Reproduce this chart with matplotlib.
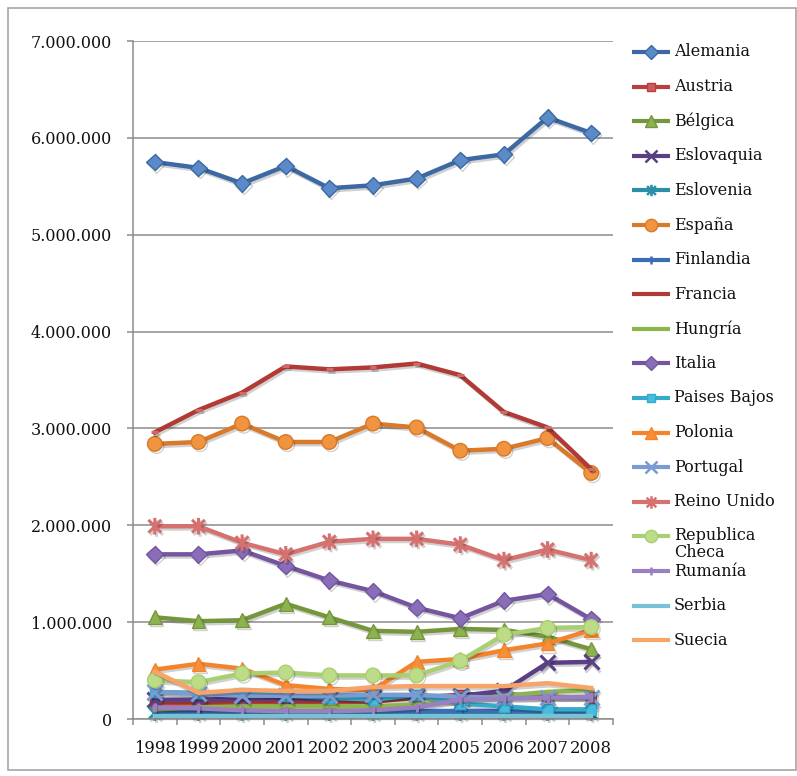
import matplotlib
matplotlib.use("Agg")
import matplotlib.pyplot as plt
from matplotlib.path import Path
from matplotlib.patches import Rectangle
import matplotlib.patheffects as pe

years = ["1998", "1999", "2000", "2001", "2002", "2003", "2004", "2005", "2006", "2007", "2008"]

countries = ["Alemania", "Austria", "Bélgica", "Eslovaquia", "Eslovenia", "España",
             "Finlandia", "Francia", "Hungría", "Italia", "Paises Bajos", "Polonia",
             "Portugal", "Reino Unido", "Republica Checa", "Rumanía", "Serbia", "Suecia"]

alemania = [5750000, 5690000, 5530000, 5710000, 5480000, 5510000, 5580000, 5770000, 5830000, 6210000, 6050000]
austria = [160000, 160000, 170000, 170000, 170000, 180000, 220000, 250000, 260000, 230000, 220000]
belgica = [1050000, 1010000, 1020000, 1190000, 1050000, 910000, 900000, 930000, 920000, 850000, 720000]
eslovaquia = [200000, 200000, 210000, 210000, 210000, 220000, 230000, 240000, 290000, 580000, 590000]
eslovenia = [60000, 60000, 60000, 60000, 60000, 60000, 60000, 60000, 60000, 60000, 60000]
espana = [2840000, 2860000, 3050000, 2860000, 2860000, 3050000, 3010000, 2770000, 2790000, 2900000, 2540000]
finlandia = [80000, 80000, 80000, 80000, 80000, 80000, 80000, 80000, 80000, 80000, 80000]
francia = [2960000, 3190000, 3370000, 3640000, 3610000, 3630000, 3670000, 3550000, 3170000, 3010000, 2580000]
hungria = [100000, 120000, 130000, 130000, 130000, 130000, 150000, 190000, 240000, 280000, 300000]
italia = [1700000, 1700000, 1740000, 1580000, 1430000, 1320000, 1150000, 1040000, 1220000, 1290000, 1030000]
paises_bajos = [280000, 270000, 270000, 240000, 220000, 200000, 250000, 160000, 130000, 100000, 100000]
polonia = [510000, 570000, 520000, 350000, 310000, 300000, 590000, 620000, 710000, 780000, 920000]
portugal = [280000, 260000, 240000, 240000, 240000, 250000, 250000, 230000, 220000, 220000, 220000]
reino_unido = [1990000, 1990000, 1820000, 1700000, 1830000, 1860000, 1860000, 1800000, 1640000, 1750000, 1640000]
rep_checa = [400000, 380000, 470000, 480000, 450000, 450000, 450000, 600000, 870000, 940000, 950000]
rumania = [120000, 110000, 90000, 80000, 80000, 90000, 120000, 200000, 210000, 220000, 230000]
serbia = [30000, 30000, 30000, 30000, 30000, 30000, 30000, 30000, 30000, 30000, 30000]
suecia = [490000, 270000, 300000, 290000, 290000, 330000, 340000, 340000, 340000, 370000, 320000]

series = [alemania, austria, belgica, eslovaquia, eslovenia, espana, finlandia, francia,
          hungria, italia, paises_bajos, polonia, portugal, reino_unido, rep_checa,
          rumania, serbia, suecia]

# Excel-style star: an X with a vertical bar through it
star = Path([(-1, -1), (1, 1), (-1, 1), (1, -1), (0, -1.3), (0, 1.3)],
            [Path.MOVETO, Path.LINETO, Path.MOVETO, Path.LINETO, Path.MOVETO, Path.LINETO])
vbar = Path([(0, -1), (0, 1)], [Path.MOVETO, Path.LINETO])
dash = Path([(-1, 0), (1, 0)], [Path.MOVETO, Path.LINETO])

# (line colour, marker face, marker, marker size)
styles = [
    ("#3C69A3", "#5B8AC8", "D", 8.5),
    ("#B7403D", "#CC5E5B", "s", 7.5),
    ("#76963C", "#8DB350", "^", 10),
    ("#5A3F85", "#5A3F85", "x", 11),
    ("#2B8FA8", "#2B8FA8", star, 11),
    ("#D9792A", "#F0943F", "o", 10.5),
    ("#3A6DB5", "#3A6DB5", vbar, 7),
    ("#B23A36", "#D06A66", dash, 5),
    ("#8CB64A", "#8CB64A", None, 0),
    ("#7456A0", "#8A6DB8", "D", 8.5),
    ("#35ABCC", "#45BDE0", "s", 7.5),
    ("#F3842B", "#F68F38", "^", 10),
    ("#7A9CD2", "#7A9CD2", "x", 11),
    ("#D5716F", "#D5716F", star, 12),
    ("#A9CF72", "#BCDC88", "o", 10.5),
    ("#9A80C0", "#9A80C0", vbar, 7),
    ("#78C2D8", "#78C2D8", None, 0),
    ("#F8A468", "#F8A468", None, 0),
]
stroke_markers = ("x",)

W, H = 797, 776
fig = plt.figure(figsize=(W / 100, H / 100), dpi=100)
fig.patch.set_facecolor("white")

# outer chart frame
fig.add_artist(Rectangle((8 / W, 6 / H), (W - 9) / W, (H - 14) / H, transform=fig.transFigure,
                         fill=False, edgecolor="#A6A6A6", linewidth=1.2))

ax = fig.add_axes([133 / W, (H - 719) / H, 480 / W, 678 / H])
ax.set_facecolor("none")

shadow = [pe.SimpleLineShadow(offset=(1.2, -1.6), alpha=0.18, shadow_color="black"), pe.Normal()]


def is_stroke(mk):
    return isinstance(mk, Path) or mk in stroke_markers


x = list(range(len(years)))
for vals, (lc, mf, mk, ms) in zip(series, styles):
    kw = dict(color=lc, linewidth=3.2, solid_joinstyle="round", path_effects=shadow, clip_on=False)
    if mk is not None:
        if is_stroke(mk):
            kw.update(marker=mk, markersize=ms, markeredgecolor=mf, markeredgewidth=2.2)
        else:
            kw.update(marker=mk, markersize=ms, markerfacecolor=mf, markeredgecolor=lc,
                      markeredgewidth=1.0)
    ax.plot(x, vals, **kw)

ax.set_xlim(-0.5, len(years) - 0.5)
ax.set_ylim(0, 7000000)

yt = list(range(0, 7000001, 1000000))
ax.set_yticks(yt)
ax.set_yticklabels([f"{v:,}".replace(",", ".") for v in yt], family="DejaVu Serif", fontsize=11.5)
ax.yaxis.grid(True, color="#8C8C8C", linewidth=1.1)
ax.set_axisbelow(True)

ax.set_xticks([i + 0.5 for i in range(-1, len(years))])
ax.set_xticklabels([])
ax.set_xticks(x, minor=True)
ax.set_xticklabels(years, minor=True, family="DejaVu Serif", fontsize=11.8)
ax.tick_params(axis="x", which="major", length=4, width=1.1, color="#8C8C8C", direction="out")
ax.tick_params(axis="x", which="minor", length=0, pad=15, labelcolor="#111111")
ax.tick_params(axis="y", length=4, width=1.1, color="#8C8C8C", pad=11, labelcolor="#111111")

for s in ("top", "right"):
    ax.spines[s].set_visible(False)
for s in ("left", "bottom"):
    ax.spines[s].set_color("#8C8C8C")
    ax.spines[s].set_linewidth(1.1)

# legend drawn in its own pixel-space axes
lg = fig.add_axes([0, 0, 1, 1])
lg.set_xlim(0, W)
lg.set_ylim(H, 0)
lg.axis("off")
lg.set_facecolor("none")
y0, dy = 52, 34.6
for i, (name, (lc, mf, mk, ms)) in enumerate(zip(countries, styles)):
    yy = y0 + i * dy
    lg.plot([632, 670], [yy, yy], color=lc, linewidth=3.0, solid_capstyle="butt")
    if mk is not None and mk is not dash:
        if is_stroke(mk):
            lg.plot([651], [yy], marker=mk, markersize=ms * 0.75, color=lc, markeredgewidth=1.8)
        else:
            lg.plot([651], [yy], marker=mk, markersize=ms * 0.85, markerfacecolor=mf,
                    markeredgecolor=lc, markeredgewidth=1.0)
    label = "Republica\nCheca" if name == "Republica Checa" else name
    va = "top" if "\n" in label else "center"
    ty = yy - 9 if "\n" in label else yy
    lg.text(674, ty, label, family="DejaVu Serif", fontsize=11.5, va=va, ha="left",
            color="#111111", linespacing=0.95)

fig.savefig("out.png", dpi=100, facecolor="white")
